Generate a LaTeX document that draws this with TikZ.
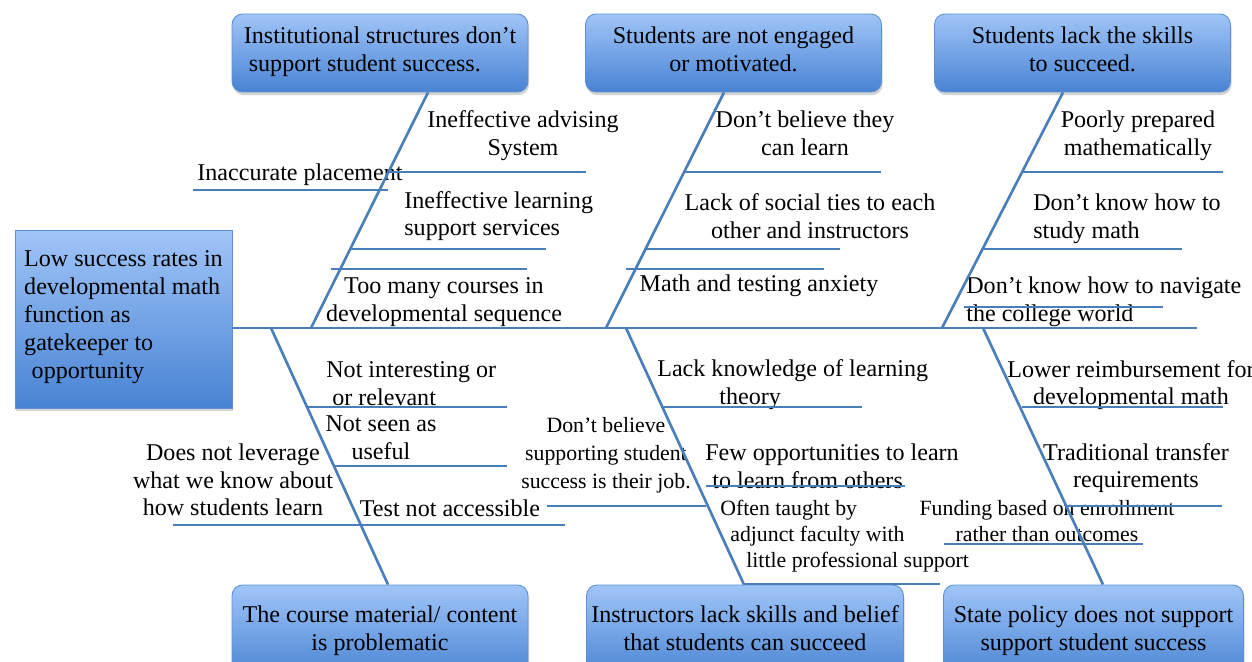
\documentclass[tikz,border=0pt]{standalone}
\usepackage{fontspec}
\setmainfont{Liberation Serif}
\usepackage{xcolor}
\usepackage{tikz}
\usetikzlibrary{calc,shadows}
\definecolor{boneBlue}{HTML}{4A7EBB}
\definecolor{boxTop}{HTML}{A0C5F8}
\definecolor{boxBottom}{HTML}{4883D3}
\definecolor{boxLine}{HTML}{5E90D2}
\newcommand{\causefont}{\fontsize{13.7}{15.8}\selectfont}
\newcommand{\smallcause}{\fontsize{12.4}{14.8}\selectfont}
\tikzset{
  catbox/.style={rectangle, rounded corners=6pt, draw=boxLine, line width=0.5pt, top color=boxTop, bottom color=boxBottom, minimum width=#1, minimum height=1.56cm, align=center, font=\causefont, inner sep=2pt, execute at begin node=\strut, execute at end node=\strut, drop shadow={shadow xshift=0.6pt, shadow yshift=-1.8pt, opacity=0.35}},
  catbox/.default=5.92cm,
  botcat/.style={catbox=#1, minimum height=1.88cm},
  botcat/.default=5.92cm,
  effectbox/.style={rectangle, draw=boxLine, line width=0.5pt, top color=boxTop, bottom color=boxBottom, minimum width=4.34cm, minimum height=3.56cm, align=left, font=\fontsize{13.7}{15.9}\selectfont, execute at begin node=\strut, execute at end node=\strut, drop shadow={shadow xshift=0.6pt, shadow yshift=-1.8pt, opacity=0.35}},
  cause/.style={font=\causefont, align=center, inner sep=0pt},
  causeleft/.style={font=\causefont, align=left, inner sep=0pt, anchor=west},
  causesmall/.style={font=\smallcause, align=center, inner sep=0pt},
  bone/.style={draw=boneBlue, line width=1.5pt},
  twig/.style={draw=boneBlue, line width=1.4pt},
}

\begin{document}
\begin{tikzpicture}[x=0.02cm,y=-0.02cm]
  \useasboundingbox (0,0) rectangle (1252,662);

  % --- head and category boxes ---
  \node[effectbox] (effect) at (123.5,319) {Low success rates in\\developmental math\\function as\\gatekeeper to\\\hspace*{0.15cm}opportunity};

  \node[catbox, align=left] (inst) at (380,53) {Institutional structures don’t\\\hspace*{0.1cm}support student success.};
  \node[catbox] (engage) at (733.5,53) {Students are not engaged\\or motivated.};
  \node[catbox] (skills) at (1082.5,53) {Students lack the skills\\to succeed.};
  \node[botcat] (content) at (380,632) {The course material/ content\\is problematic};
  \node[botcat=6.34cm] (instr) at (745,632) {Instructors lack skills and belief\\that students can succeed};
  \node[botcat=6.0cm] (policy) at (1093.5,632) {State policy does not support\\support student success};

  % --- causes ---
  \node[cause] (advis) at (523,136) {Ineffective advising\\System};
  \node[cause] (place) at (300,175) {Inaccurate placement};
  \node[causeleft] (lsupp) at (404,216) {Ineffective learning\\support services};
  \node[cause] (toomany) at (444,302) {Too many courses in\\developmental sequence};

  \node[cause] (believe) at (805,133) {Don’t believe they\\can learn};
  \node[cause] (social) at (810,216) {Lack of social ties to each\\other and instructors};
  \node[cause] (anxiety) at (759,286) {Math and testing anxiety};

  \node[cause] (prep) at (1138,136) {Poorly prepared\\mathematically};
  \node[causeleft] (study) at (1033,219) {Don’t know how to\\study math};
  \node[causeleft] (navig) at (966,302) {Don’t know how to navigate\\the college world};

  \node[causeleft] (interest) at (326,384) {Not interesting or\\\hspace*{0.12cm}or relevant};
  \node[cause] (useful) at (381,438) {Not seen as\\useful};
  \node[cause] (leverage) at (233,480) {Does not leverage\\what we know about\\how students learn};
  \node[cause] (access) at (450,508) {Test not accessible};

  \node[causesmall, font=\fontsize{12.4}{15.9}\selectfont] (notjob) at (606,455) {Don’t believe\\supporting student\\success is their job.};
  \node[causeleft] (theory) at (657,385) {Lack knowledge of learning\\\hspace*{1.24cm}theory};
  \node[causeleft] (fewopp) at (705,466) {Few opportunities to learn\\\hspace*{0.14cm}to learn from others};
  \node[causesmall, align=left, anchor=west] (adjunct) at (720,536) {Often taught by\\\hspace*{0.2cm}adjunct faculty with\\\hspace*{0.52cm}little professional support};

  \node[cause] (reimb) at (1131,385) {Lower reimbursement for\\developmental math};
  \node[cause] (transfer) at (1136,468) {Traditional transfer\\requirements};
  \node[causesmall] (funding) at (1047,521) {Funding based on enrollment\\rather than outcomes};

  % --- spine and bones ---
  \coordinate (head) at (1197,328);
  \coordinate (j1) at (311,328);
  \coordinate (j2) at (606,328);
  \coordinate (j3) at (942,328);
  \coordinate (j4) at (271,328);
  \coordinate (j5) at (626,328);
  \coordinate (j6) at (983,328);

  \draw[bone] (effect.east |- head) -- (head);
  \draw[bone] ($(inst.south)+(48,0)$) -- (j1);
  \draw[bone] ($(engage.south)+(-9.5,0)$) -- (j2);
  \draw[bone] ($(skills.south)+(-19.5,0)$) -- (j3);
  \draw[bone] (j4) -- ($(content.north)+(8,0)$);
  \draw[bone] (j5) -- ($(instr.north)+(-1,0)$);
  \draw[bone] (j6) -- ($(policy.north)+(9.5,0)$);

  % --- twigs under the causes ---
  \foreach \xa/\xb/\yy in {389/586/172, 193/388/190, 350/546/249, 331/527/269,
                           684/881/172, 646/840/249, 626/824/269,
                           1022/1223/172, 983/1182/249, 964/1163/307,
                           307/507/407, 333/507/466, 173/565/525,
                           662/862/407, 706/905/486, 547/706/506, 744/940/584,
                           1022/1223/407, 1066/1222/506, 944/1143/544}
    \draw[twig] (\xa,\yy) -- (\xb,\yy);
\end{tikzpicture}
\end{document}
